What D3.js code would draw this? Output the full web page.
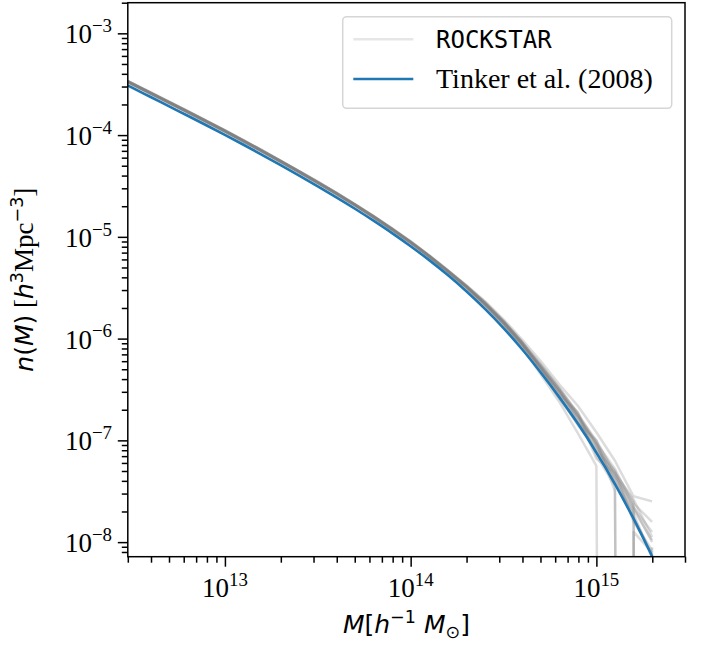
<!DOCTYPE html>
<html>
<head>
<meta charset="utf-8">
<script src="https://cdn.jsdelivr.net/npm/d3@7"></script>
<style>
  body { margin: 0; background: #fff; }
  svg { display: block; }
  .serif { font-family: "Liberation Serif", "Times New Roman", serif; }
  .sans { font-family: "DejaVu Sans", sans-serif; }
  .mono { font-family: "DejaVu Sans Mono", monospace; }
</style>
</head>
<body>
<div id="chart"></div>
<script>
// halo mass bins, log10(M / h^-1 Msun)
var logMass = [12.4, 12.5, 12.6, 12.7, 12.8, 12.9, 13.0, 13.1, 13.2, 13.3,
               13.4, 13.5, 13.6, 13.7, 13.8, 13.9, 14.0, 14.1, 14.2, 14.3,
               14.4, 14.5, 14.6, 14.7, 14.8, 14.9, 15.0, 15.1, 15.2, 15.3];

// Tinker et al. (2008), log10 n(M)
var tinkerLogN = [-3.443, -3.534, -3.626, -3.718, -3.810, -3.903, -3.998, -4.095, -4.195, -4.296,
                  -4.399, -4.504, -4.612, -4.724, -4.841, -4.963, -5.092, -5.229, -5.376, -5.535,
                  -5.708, -5.897, -6.105, -6.333, -6.575, -6.835, -7.120, -7.430, -7.770, -8.140];

// ROCKSTAR catalogues, log10 n(M), null = empty bin
var run01 = [-3.406, -3.496, -3.588, -3.682, -3.774, -3.865, -3.962, -4.057, -4.159, -4.258,
             -4.361, -4.468, -4.574, -4.686, -4.804, -4.926, -5.053, -5.191, -5.336, -5.485,
             -5.650, -5.835, -6.045, -6.28, -6.50, -6.75, -7.05, -7.35, -7.62, -7.80];
var run02 = [-3.410, -3.503, -3.593, -3.687, -3.777, -3.872, -3.965, -4.064, -4.162, -4.265,
             -4.366, -4.473, -4.579, -4.693, -4.808, -4.932, -5.059, -5.198, -5.341, -5.492,
             -5.662, -5.850, -6.060, -6.30, -6.52, -6.82, -7.10, -7.30, -7.80, -8.08];
var run03 = [-3.400, -3.491, -3.585, -3.675, -3.768, -3.862, -3.955, -4.054, -4.152, -4.256,
             -4.356, -4.464, -4.569, -4.683, -4.798, -4.923, -5.048, -5.188, -5.330, -5.480,
             -5.640, -5.825, -6.030, -6.28, -6.55, -6.72, -7.15, -7.45, null, null];
var run04 = [-3.395, -3.488, -3.578, -3.672, -3.762, -3.857, -3.950, -4.049, -4.148, -4.250,
             -4.353, -4.456, -4.566, -4.678, -4.793, -4.916, -5.044, -5.180, -5.326, -5.475,
             -5.632, -5.810, -6.010, -6.22, -6.45, -6.66, -6.92, -7.20, -7.55, -7.60];
var run05 = [-3.413, -3.504, -3.597, -3.688, -3.780, -3.874, -3.968, -4.066, -4.166, -4.266,
             -4.370, -4.474, -4.583, -4.694, -4.811, -4.934, -5.063, -5.200, -5.348, -5.505,
             -5.680, -5.872, -6.085, -6.35, -6.62, -6.93, -7.25, null, -7.90, -8.10];
var run06 = [-3.403, -3.494, -3.586, -3.678, -3.770, -3.863, -3.958, -4.056, -4.154, -4.256,
             -4.359, -4.465, -4.571, -4.685, -4.800, -4.924, -5.051, -5.189, -5.334, -5.488,
             -5.655, -5.840, -6.048, -6.29, -6.52, -6.76, -7.02, -7.28, -7.65, -8.00];
var run07 = [-3.409, -3.500, -3.592, -3.685, -3.776, -3.869, -3.964, -4.061, -4.161, -4.262,
             -4.365, -4.470, -4.578, -4.690, -4.807, -4.929, -5.058, -5.194, -5.343, -5.498,
             -5.672, -5.862, -6.072, -6.29, -6.57, -6.85, -7.08, -7.40, -7.70, null];
var run08 = [-3.399, -3.490, -3.582, -3.674, -3.766, -3.859, -3.954, -4.051, -4.151, -4.252,
             -4.355, -4.460, -4.568, -4.680, -4.796, -4.919, -5.046, -5.184, -5.330, -5.482,
             -5.650, -5.828, -6.035, -6.25, -6.48, -6.74, -7.18, -7.32, -7.58, -7.95];
var run09 = [-3.405, -3.496, -3.588, -3.680, -3.772, -3.865, -3.960, -4.057, -4.157, -4.258,
             -4.361, -4.466, -4.574, -4.686, -4.803, -4.925, -5.054, -5.191, -5.338, -5.490,
             -5.660, -5.845, -6.055, -6.31, -6.59, -6.83, -7.00, -7.50, null, -8.05];
var run10 = [-3.401, -3.492, -3.584, -3.676, -3.768, -3.861, -3.956, -4.053, -4.153, -4.254,
             -4.357, -4.462, -4.570, -4.682, -4.799, -4.921, -5.050, -5.187, -5.332, -5.486,
             -5.652, -5.835, -6.040, -6.27, -6.50, -6.80, -7.12, -7.38, -7.75, -8.12];
var run11 = [-3.407, -3.498, -3.590, -3.682, -3.774, -3.867, -3.962, -4.059, -4.159, -4.260,
             -4.363, -4.468, -4.576, -4.688, -4.805, -4.927, -5.056, -5.193, -5.340, -5.494,
             -5.666, -5.852, -6.058, -6.28, -6.53, -6.78, -7.06, -7.36, -7.68, -7.98];
var run12 = [-3.404, -3.495, -3.587, -3.679, -3.771, -3.864, -3.959, -4.056, -4.156, -4.257,
             -4.360, -4.465, -4.573, -4.685, -4.802, -4.924, -5.053, -5.190, -5.337, -5.489,
             -5.658, -5.842, -6.050, -6.30, -6.53, -6.77, -7.04, -7.42, -7.72, -8.15];
var run13 = [-3.408, -3.499, -3.591, -3.683, -3.775, -3.868, -3.963, -4.060, -4.160, -4.261,
             -4.364, -4.469, -4.577, -4.689, -4.806, -4.928, -5.057, -5.194, -5.341, -5.496,
             -5.668, -5.856, -6.062, -6.26, -6.50, -6.75, -7.00, -7.34, -7.66, -7.90];
var run14 = [-3.402, -3.493, -3.585, -3.677, -3.769, -3.862, -3.957, -4.054, -4.154, -4.255,
             -4.358, -4.463, -4.571, -4.683, -4.800, -4.922, -5.051, -5.188, -5.335, -5.485,
             -5.648, -5.830, -6.038, -6.26, -6.49, -6.73, -7.03, -7.31, -7.60, null];
var rockstarRuns = [run01, run02, run03, run04, run05, run06, run07,
                    run08, run09, run10, run11, run12, run13, run14];

// tick exponents
var xTickExps = [13, 14, 15];
var yTickExps = [-3, -4, -5, -6, -7, -8];

var legendLabels = ['ROCKSTAR', 'Tinker et al. (2008)'];

var width = 707;
var height = 652;
var plot = {left: 127.8, right: 685, top: 2.7, bottom: 556.7};

var x = d3.scaleLog().domain([3e12, 3e15]).range([plot.left, plot.right]);
var y = d3.scaleLog().domain([7.19e-9, 2e-3]).range([plot.bottom, plot.top]);

var svg = d3.select('#chart').append('svg')
  .attr('width', width)
  .attr('height', height);

svg.append('clipPath').attr('id', 'plotclip')
  .append('rect')
  .attr('x', plot.left).attr('y', plot.top)
  .attr('width', plot.right - plot.left).attr('height', plot.bottom - plot.top);

// empty bins get clipped far below the axis, like matplotlib does
var line = d3.line()
  .x((d, i) => x(Math.pow(10, logMass[i])))
  .y(d => d == null ? y(1e-40) : y(Math.pow(10, d)));

var data_g = svg.append('g').attr('clip-path', 'url(#plotclip)');

data_g.selectAll('path.run')
  .data(rockstarRuns)
  .enter().append('path')
    .attr('class', 'run')
    .attr('d', line)
    .attr('fill', 'none')
    .attr('stroke', '#808080')
    .attr('stroke-opacity', 0.28)
    .attr('stroke-width', 2.5)
    .attr('stroke-linejoin', 'round');

data_g.append('path')
  .attr('d', line.curve(d3.curveMonotoneX)(tinkerLogN))
  .attr('fill', 'none')
  .attr('stroke', '#1f77b4')
  .attr('stroke-width', 2.6);

// minor tick values for log axes
function minorTicks(scale) {
  var dom = scale.domain();
  var lo = Math.floor(Math.log10(dom[0]));
  var hi = Math.ceil(Math.log10(dom[1]));
  var out = [];
  for (var e = lo; e <= hi; e++) {
    for (var k = 2; k <= 9; k++) {
      var v = k * Math.pow(10, e);
      if (v >= dom[0] && v <= dom[1]) out.push(v);
    }
  }
  return out;
}

var xMajor = xTickExps.map(e => Math.pow(10, e));
var yMajor = yTickExps.map(e => Math.pow(10, e));

function styleAxis(g) {
  g.select('.domain').remove();
  g.selectAll('line').attr('stroke', '#000').attr('stroke-width', 1.5);
}

svg.append('g').attr('transform', 'translate(0,' + plot.bottom + ')')
  .call(d3.axisBottom(x).tickValues(xMajor).tickSize(10).tickFormat(''))
  .call(styleAxis);
svg.append('g').attr('transform', 'translate(0,' + plot.bottom + ')')
  .call(d3.axisBottom(x).tickValues(minorTicks(x)).tickSize(6).tickFormat(''))
  .call(styleAxis);
svg.append('g').attr('transform', 'translate(' + plot.left + ',0)')
  .call(d3.axisLeft(y).tickValues(yMajor).tickSize(10).tickFormat(''))
  .call(styleAxis);
svg.append('g').attr('transform', 'translate(' + plot.left + ',0)')
  .call(d3.axisLeft(y).tickValues(minorTicks(y)).tickSize(6).tickFormat(''))
  .call(styleAxis);

// frame
svg.append('rect')
  .attr('x', plot.left).attr('y', plot.top)
  .attr('width', plot.right - plot.left).attr('height', plot.bottom - plot.top)
  .attr('fill', 'none').attr('stroke', '#000').attr('stroke-width', 1.5);

// tick labels 10^n
var tickFont = 27;
function powerLabel(sel, exp) {
  sel.append('tspan').text('10');
  sel.append('tspan')
    .attr('dy', -tickFont * 0.42)
    .attr('font-size', tickFont * 0.7)
    .text(String(exp).replace('-', '\u2212'));
}

xTickExps.forEach(function(e) {
  svg.append('text')
    .attr('class', 'serif')
    .attr('x', x(Math.pow(10, e)))
    .attr('y', 597)
    .attr('text-anchor', 'middle')
    .attr('font-size', tickFont)
    .call(powerLabel, e);
});

yTickExps.forEach(function(e) {
  svg.append('text')
    .attr('class', 'serif')
    .attr('x', 112)
    .attr('y', y(Math.pow(10, e)) + 10)
    .attr('text-anchor', 'end')
    .attr('font-size', tickFont)
    .call(powerLabel, e);
});

// axis labels
var labFont = 25;
var xl = svg.append('text')
  .attr('class', 'sans')
  .attr('x', (plot.left + plot.right) / 2)
  .attr('y', 633)
  .attr('text-anchor', 'middle')
  .attr('font-size', labFont);
xl.append('tspan').attr('font-style', 'italic').text('M');
xl.append('tspan').text('[');
xl.append('tspan').attr('font-style', 'italic').text('h');
xl.append('tspan').attr('dy', -10).attr('font-size', labFont * 0.7).text('\u22121');
xl.append('tspan').attr('dy', 10).text(' ');
xl.append('tspan').attr('font-style', 'italic').text('M');
xl.append('tspan').attr('dy', 5).attr('font-size', labFont * 0.7).text('\u2299');
xl.append('tspan').attr('dy', -5).text(']');

var yl = svg.append('text')
  .attr('transform', 'translate(33,' + ((plot.top + plot.bottom) / 2) + ') rotate(-90)')
  .attr('text-anchor', 'middle')
  .attr('font-size', labFont);
yl.append('tspan').attr('class', 'sans').attr('font-style', 'italic').text('n');
yl.append('tspan').attr('class', 'sans').text('(');
yl.append('tspan').attr('class', 'sans').attr('font-style', 'italic').text('M');
yl.append('tspan').attr('class', 'sans').text(')');
yl.append('tspan').attr('class', 'serif').attr('font-size', tickFont).text(' [');
yl.append('tspan').attr('class', 'sans').attr('font-style', 'italic').text('h');
yl.append('tspan').attr('class', 'sans').attr('dy', -10).attr('font-size', labFont * 0.7).text('3');
yl.append('tspan').attr('class', 'serif').attr('dy', 10).attr('font-size', tickFont).text('Mpc');
yl.append('tspan').attr('class', 'sans').attr('dy', -10).attr('font-size', labFont * 0.7).text('\u22123');
yl.append('tspan').attr('class', 'serif').attr('dy', 10).attr('font-size', tickFont).text(']');

// legend
var leg = svg.append('g');
leg.append('rect')
  .attr('x', 342.7).attr('y', 16.7)
  .attr('width', 329).attr('height', 91.6)
  .attr('rx', 4).attr('ry', 4)
  .attr('fill', '#fff').attr('fill-opacity', 0.8)
  .attr('stroke', '#d6d6d6').attr('stroke-width', 1.5);

var legRows = [
  {y: 39.3, color: '#808080', opacity: 0.2, cls: 'mono', size: 24},
  {y: 79, color: '#1f77b4', opacity: 1, cls: 'serif', size: 28}
];
legRows.forEach(function(r, i) {
  leg.append('line')
    .attr('x1', 353.3).attr('x2', 413.3)
    .attr('y1', r.y).attr('y2', r.y)
    .attr('stroke', r.color).attr('stroke-opacity', r.opacity)
    .attr('stroke-width', 2.6);
  leg.append('text')
    .attr('class', r.cls)
    .attr('x', 436)
    .attr('y', r.y + 9)
    .attr('font-size', r.size)
    .text(legendLabels[i]);
});
</script>
</body>
</html>
